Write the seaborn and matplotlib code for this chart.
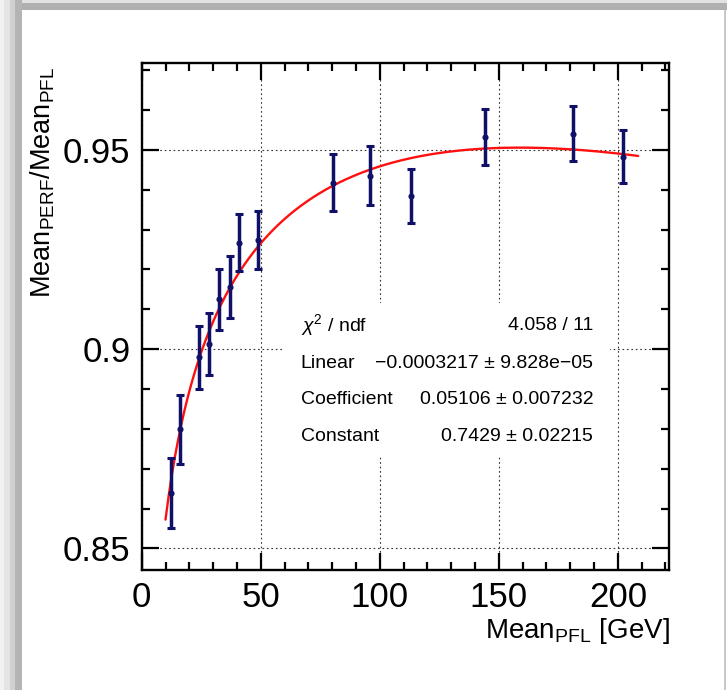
# ratio of means vs Mean_PFL with log+linear fit
import numpy as np
import pandas as pd
import matplotlib
matplotlib.use("Agg")
import matplotlib.pyplot as plt
from matplotlib.patches import Rectangle
from matplotlib.ticker import MultipleLocator
import seaborn as sns

# data
mean_pfl = [12.2, 16.1, 24.2, 28.4, 32.6, 37.1, 40.8, 48.7, 80.3, 95.9, 113.0, 144.4, 181.3, 202.1]
ratio = [0.8639, 0.8799, 0.8980, 0.9013, 0.9125, 0.9156, 0.9267, 0.9274, 0.9418, 0.9435, 0.9385, 0.9532, 0.9541, 0.9483]
ratio_err = [0.0087, 0.0086, 0.0079, 0.0077, 0.0077, 0.0077, 0.0072, 0.0073, 0.0071, 0.0074, 0.0068, 0.0070, 0.0070, 0.0067]

# fit parameters (f = Constant + Coefficient*ln(x) + Linear*x)
p_linear = -0.0003217
p_coef = 0.05106
p_const = 0.7429
fit_lo, fit_hi = 10, 208.5

stat_names = [r"$\chi^{2}$ / ndf", "Linear", "Coefficient", "Constant"]
stat_values = ["4.058 / 11", "\u22120.0003217 \u00b1 9.828e\u221205", "0.05106 \u00b1 0.007232", "0.7429 \u00b1 0.02215"]

x_ticks = [0, 50, 100, 150, 200]
y_ticks = [0.85, 0.9, 0.95]
y_ticklabels = ["0.85", "0.9", "0.95"]

sns.set_style("ticks")
plt.rcParams["font.family"] = ["Liberation Sans", "DejaVu Sans"]
plt.rcParams["mathtext.fontset"] = "custom"
plt.rcParams["mathtext.rm"] = "Liberation Sans"
plt.rcParams["mathtext.it"] = "Liberation Sans:italic"
plt.rcParams["mathtext.bf"] = "Liberation Sans:bold"
for k in ["text.color", "axes.labelcolor", "xtick.color", "ytick.color"]:
    plt.rcParams[k] = "black"

df = pd.DataFrame({"x": mean_pfl, "y": ratio, "err": ratio_err})
xf = np.linspace(fit_lo, fit_hi, 300)
fit = pd.DataFrame({"x": xf, "y": p_const + p_coef * np.log(xf) + p_linear * xf})

fig = plt.figure(figsize=(7.27, 6.90), dpi=100)
fig.patch.set_facecolor("white")

# window shadow bands
for x0, w, c in [(0, 4, "#f2f2f2"), (4, 6, "#e4e4e4"), (10, 5, "#d0d0d0"), (15, 7, "#b4b4b4")]:
    fig.add_artist(Rectangle((x0 / 727, 0), w / 727, 1, transform=fig.transFigure, color=c, lw=0, zorder=0))
for y0, h, c in [(0, 3, "#e2e2e2"), (3, 7, "#b0b0b0")]:
    fig.add_artist(Rectangle((22 / 727, 1 - (y0 + h) / 690), 1, h / 690, transform=fig.transFigure, color=c, lw=0, zorder=0))
fig.add_artist(Rectangle((724 / 727, 0), 2 / 727, 1 - 10 / 690, transform=fig.transFigure, color="#c8c8c8", lw=0, zorder=0))

ax = fig.add_axes([0.1949, 0.1739, 0.7257, 0.7348])
ax.set_axisbelow(True)

sns.lineplot(data=fit, x="x", y="y", ax=ax, color="#ff1010", lw=1.7, zorder=3)
ax.errorbar(df["x"], df["y"], yerr=df["err"], fmt="o", ms=3.4, color="#101068",
            ecolor="#101068", elinewidth=2.5, capsize=3, capthick=2.2, zorder=4)

ax.set_xlim(0, 221.6)
ax.set_ylim(0.8446, 0.9718)
ax.set_xticks(x_ticks)
ax.set_xticklabels([str(t) for t in x_ticks])
ax.set_yticks(y_ticks)
ax.set_yticklabels(y_ticklabels)
ax.xaxis.set_minor_locator(MultipleLocator(10))
ax.yaxis.set_minor_locator(MultipleLocator(0.01))

ax.tick_params(which="both", direction="in", top=True, right=True, width=1.6, color="black")
ax.tick_params(which="major", length=12)
ax.tick_params(which="minor", length=6)
ax.tick_params(axis="x", which="major", labelsize=25, pad=8, labelcolor="black")
ax.tick_params(axis="y", which="major", labelsize=25, pad=8, labelcolor="black")
for s in ax.spines.values():
    s.set_linewidth(1.7)
    s.set_color("black")

ax.grid(True, which="major", linestyle=(0, (1.5, 2.5)), color="#333333", lw=0.8)

ax.set_xlabel(r"Mean$_{\rm PFL}$ [GeV]", fontsize=20, loc="right", color="black")
ax.xaxis.set_label_coords(1.0, -0.09)
ax.set_ylabel(r"Mean$_{\rm PERF}$/Mean$_{\rm PFL}$", fontsize=19.5, loc="top", color="black")
ax.yaxis.set_label_coords(-0.161, 0.992)

# stats box (white, no border)
ax.add_patch(Rectangle((0.268, 0.223), 0.62, 0.304, transform=ax.transAxes,
                       facecolor="white", edgecolor="none", zorder=1.5))
row_y = [0.483, 0.408, 0.337, 0.264]
for name, val, yy in zip(stat_names, stat_values, row_y):
    ax.text(0.3015, yy, name, transform=ax.transAxes, fontsize=14, ha="left", va="center", color="black", zorder=5)
    ax.text(0.856, yy, val, transform=ax.transAxes, fontsize=14, ha="right", va="center", color="black", zorder=5)

fig.savefig("out.png", dpi=100)
